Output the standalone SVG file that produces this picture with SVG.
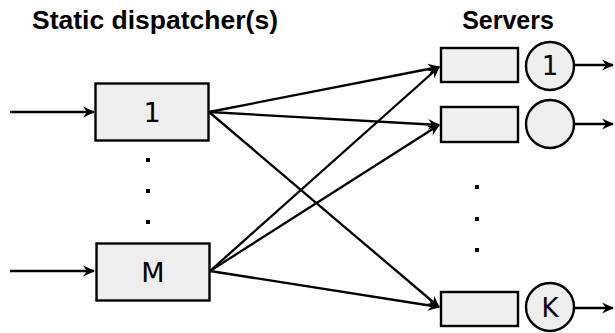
<svg xmlns="http://www.w3.org/2000/svg" width="615" height="333" viewBox="0 0 615 333">
<style>
.box{fill:#eeeeee;stroke:#000;stroke-width:2.4}
.ln{stroke:#000;stroke-width:2.3;fill:none}
.lbl{font-family:"DejaVu Sans",sans-serif;font-size:27px;text-anchor:middle;fill:#000}
.slbl{font-family:"DejaVu Sans",sans-serif;font-size:26px;text-anchor:middle;fill:#000}
.title{font-family:"Liberation Sans",Arial,sans-serif;font-weight:bold;font-size:25px;text-anchor:middle;fill:#000}
.dot{fill:#000}
</style>
<defs>
<marker id="ah" viewBox="-12 -6 14 12" refX="0" refY="0" markerWidth="14" markerHeight="12" markerUnits="userSpaceOnUse" orient="auto">
<path d="M1,0 L-11,-5.5 L-7,0 L-11,5.5 Z" fill="#000"/>
</marker>
</defs>
<text class="title" x="155" y="29" style="font-size:26.5px">Static dispatcher(s)</text>
<text class="title" x="508" y="29">Servers</text>
<g id="connectors">
<line class="ln" x1="10" y1="112" x2="94" y2="112" marker-end="url(#ah)"/>
<line class="ln" x1="10" y1="271" x2="94" y2="271" marker-end="url(#ah)"/>
<line class="ln" x1="209" y1="112" x2="439" y2="67" marker-end="url(#ah)"/>
<line class="ln" x1="209" y1="112" x2="439" y2="125" marker-end="url(#ah)"/>
<line class="ln" x1="209" y1="112" x2="439" y2="307" marker-end="url(#ah)"/>
<line class="ln" x1="210" y1="271" x2="439" y2="67" marker-end="url(#ah)"/>
<line class="ln" x1="210" y1="271" x2="439" y2="125" marker-end="url(#ah)"/>
<line class="ln" x1="210" y1="271" x2="439" y2="307" marker-end="url(#ah)"/>
<line class="ln" x1="574" y1="65" x2="613" y2="65" marker-end="url(#ah)"/>
<line class="ln" x1="574" y1="124" x2="613" y2="124" marker-end="url(#ah)"/>
<line class="ln" x1="574" y1="308" x2="613" y2="308" marker-end="url(#ah)"/>
</g>
<g id="dispatcher1">
<rect class="box" x="95.5" y="83.5" width="113" height="57"/>
<text class="lbl" x="152" y="122">1</text>
</g>
<g id="dispatcherM">
<rect class="box" x="96.5" y="243.5" width="113" height="57"/>
<text class="lbl" x="153" y="282">M</text>
</g>
<g id="dispatcher-dots">
<rect class="dot" x="146" y="158" width="4" height="4"/>
<rect class="dot" x="146" y="189" width="4" height="4"/>
<rect class="dot" x="146" y="220" width="4" height="4"/>
</g>
<g id="server1">
<rect class="box" x="441" y="48" width="77" height="34"/>
<circle class="box" cx="550" cy="66" r="24"/>
<text class="slbl" x="550" y="75">1</text>
</g>
<g id="server2">
<rect class="box" x="441" y="107" width="77" height="35"/>
<circle class="box" cx="550" cy="124" r="24"/>
</g>
<g id="serverK">
<rect class="box" x="441" y="292" width="77" height="34"/>
<circle class="box" cx="550" cy="307" r="24"/>
<text class="slbl" x="550" y="317">K</text>
</g>
<g id="server-dots">
<rect class="dot" x="475" y="185" width="4" height="4"/>
<rect class="dot" x="475" y="217" width="4" height="4"/>
<rect class="dot" x="475" y="248" width="4" height="4"/>
</g>
</svg>
